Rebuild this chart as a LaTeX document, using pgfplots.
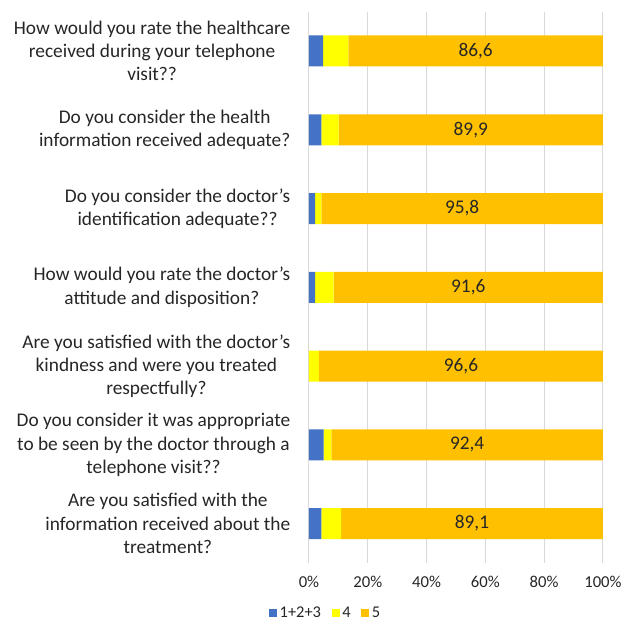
\documentclass[border=0pt]{standalone}
\usepackage{fontspec}
\setmainfont{Carlito}
\usepackage{pgfplots}
\usepackage{pgfplotstable}
\pgfplotsset{compat=1.18}
\definecolor{cBlue}{HTML}{4472C4}
\definecolor{cYel}{HTML}{FFFF00}
\definecolor{cOr}{HTML}{FFC000}
\definecolor{cGrid}{HTML}{D9D9D9}
\definecolor{cText}{HTML}{262626}
\pgfplotstableread{
y a b c
0 4.8 8.6 86.6
1 4.2 5.9 89.9
2 2.1 2.1 95.8
3 2.1 6.3 91.6
4 0.0 3.4 96.6
5 5.0 2.6 92.4
6 4.2 6.7 89.1
}\data
\pgfplotstableread{
y x lab
0 56.70 86,6
1 55.05 89,9
2 52.10 95,8
3 54.20 91,6
4 51.70 96,6
5 53.80 92,4
6 55.45 89,1
}\labs
\begin{document}
\begin{tikzpicture}
\pgfplotsset{
  common/.style={
    width=220.5pt, height=413.6pt, scale only axis,
    xmin=0, xmax=100, ymin=-0.5, ymax=6.5, y dir=reverse,
  }
}
\begin{axis}[common,
  xbar stacked, bar width=23.25pt,
  axis line style={draw=none},
  major tick length=0pt,
  xtick={0,20,40,60,80,100},
  xticklabels={0\%,20\%,40\%,60\%,80\%,100\%},
  xmajorgrids, grid style={cGrid, line width=0.8pt},
  ytick={0,...,6},
  yticklabels={
    {How would you rate the healthcare\\received during your telephone\\visit??},
    {Do you consider the health\\information received adequate?},
    {Do you consider the doctor’s\\identification adequate??},
    {How would you rate the doctor’s\\attitude and disposition?},
    {Are you satisfied with the doctor’s\\kindness and were you treated\\respectfully?},
    {Do you consider it was appropriate\\to be seen by the doctor through a\\telephone visit??},
    {Are you satisfied with the\\information received about the\\treatment?}
  },
  yticklabel style={align=center, font=\fontsize{14.5}{17.5}\selectfont, text=cText, xshift=-10.5pt},
  xticklabel style={font=\fontsize{12.5}{14}\selectfont, text=cText, yshift=-6pt},
  legend columns=3,
  legend style={draw=none, at={(0.058,-0.091)}, anchor=center, font=\fontsize{12.3}{14}\selectfont, text=cText,
    /tikz/every even column/.append style={column sep=6pt}},
  legend image code/.code={\fill[#1] (0pt,-3pt) rectangle (6pt,3pt);},
]
\addplot[fill=cBlue, draw=none] table[x=a, y=y] {\data};
\addplot[fill=cYel, draw=none] table[x=b, y=y] {\data};
\addplot[fill=cOr, draw=none] table[x=c, y=y] {\data};
\legend{1+2+3,4,5}
\end{axis}
\begin{axis}[common, hide axis]
\addplot[draw=none, mark=none, nodes near coords, nodes near coords align=center,
  point meta=explicit symbolic,
  every node near coord/.append style={font=\fontsize{14.5}{16}\selectfont, text=cText}]
  table[x=x, y=y, meta=lab] {\labs};
\end{axis}
\pgfresetboundingbox
\path (-231.75pt,-56.25pt) rectangle (243pt,422.3pt);
\end{tikzpicture}
\end{document}
